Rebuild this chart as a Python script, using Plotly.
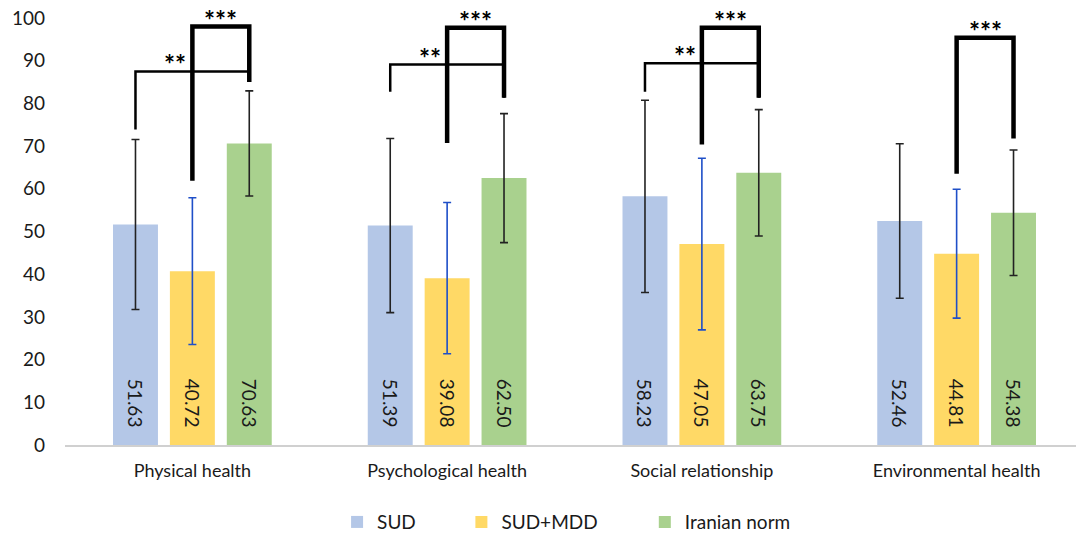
import plotly.graph_objects as go

# Data
categories = ['Physical health', 'Psychological health', 'Social relationship', 'Environmental health']
series = ['SUD', 'SUD+MDD', 'Iranian norm']
sud = [51.63, 51.39, 58.23, 52.46]
sud_mdd = [40.72, 39.08, 47.05, 44.81]
iran_norm = [70.63, 62.50, 63.75, 54.38]
sud_sd = [19.9, 20.4, 22.5, 18.1]
sud_mdd_sd = [17.2, 17.7, 20.1, 15.1]
iran_norm_sd = [12.3, 15.1, 14.8, 14.7]

# significance brackets: category index, from series, to series, top, left end, right end, label
br_cat = [0, 0, 1, 1, 2, 2, 3]
br_from = [0, 1, 0, 1, 0, 1, 1]
br_to = [2, 2, 2, 2, 2, 2, 2]
br_top = [87.5, 98.0, 89.1, 97.7, 89.4, 97.7, 95.4]
br_left = [73.9, 61.9, 82.7, 70.7, 82.7, 70.4, 63.5]
br_right = [86.0, 85.0, 81.3, 81.3, 81.3, 81.3, 71.8]
br_label = ['**', '***', '**', '***', '**', '***', '***']

colors = ['#b4c7e7', '#ffd966', '#a9d18e']
err_colors = ['#222222', '#1f4fc8', '#222222']
values = [sud, sud_mdd, iran_norm]
sds = [sud_sd, sud_mdd_sd, iran_norm_sd]
legend_x = [0.267, 0.389, 0.569]

bargap = 0.33
slot = (1 - bargap) / 3
xs = list(range(len(categories)))
pad = '\u00a0' * 3

fig = go.Figure()
for i, (name, vals, sd, col, ecol) in enumerate(zip(series, values, sds, colors, err_colors)):
    fig.add_trace(go.Bar(
        x=xs, y=vals, name=name,
        legend='legend' if i == 0 else 'legend%d' % (i + 1),
        marker=dict(color=col, line=dict(width=0)),
        error_y=dict(type='data', array=sd, color=ecol, thickness=1.6, width=4),
        text=['%.2f%s' % (v, pad) for v in vals],
        textposition='inside', insidetextanchor='start', textangle=90,
        textfont=dict(size=19, color='#1a1a1a', family='Lato'),
    ))

# brackets
for c, a, b, top, ly, ry, lab in zip(br_cat, br_from, br_to, br_top, br_left, br_right, br_label):
    x0 = c + (a - 1) * slot
    x1 = c + (b - 1) * slot
    w = 4.5 if lab == '***' else 2.5
    fig.add_shape(type='path',
                  path=f'M {x0},{ly} L {x0},{top} L {x1},{top} L {x1},{ry}',
                  line=dict(color='black', width=w), xref='x', yref='y')
    if lab == '***':
        lx = (x0 + x1) / 2
    else:
        lx = x0 + 0.35 * (x1 - x0)
    fig.add_annotation(x=lx, y=top, text='<b>%s</b>' % lab, showarrow=False, yanchor='bottom',
                       yshift=-11, font=dict(size=26, color='black', family='Lato'))

leg = dict(orientation='h', xanchor='left', y=-0.136, yanchor='top',
           font=dict(size=19, color='#1a1a1a'), bgcolor='rgba(0,0,0,0)')
fig.update_layout(
    width=1076, height=528,
    margin=dict(l=57, r=0, t=10, b=91, autoexpand=False),
    plot_bgcolor='white', paper_bgcolor='white',
    barmode='group', bargap=bargap, bargroupgap=0.21,
    font=dict(family='Lato', size=16, color='#1a1a1a'),
    showlegend=True,
    legend=dict(leg, x=legend_x[0]),
    legend2=dict(leg, x=legend_x[1]),
    legend3=dict(leg, x=legend_x[2]),
    uniformtext=dict(mode='show', minsize=10),
)
fig.update_xaxes(range=[-0.5, 3.5], tickvals=xs, ticktext=categories,
                 showline=True, linecolor='#d0d0d0', linewidth=1.5, showgrid=False,
                 ticks='', tickfont=dict(size=18), ticklabelstandoff=9, automargin=False)
fig.update_yaxes(range=[0, 100], dtick=10, showgrid=False, zeroline=False,
                 showline=False, ticks='', tickfont=dict(size=19), ticklabelstandoff=19,
                 ticklabeloverflow='allow', automargin=False)

fig.write_html('out.html')
